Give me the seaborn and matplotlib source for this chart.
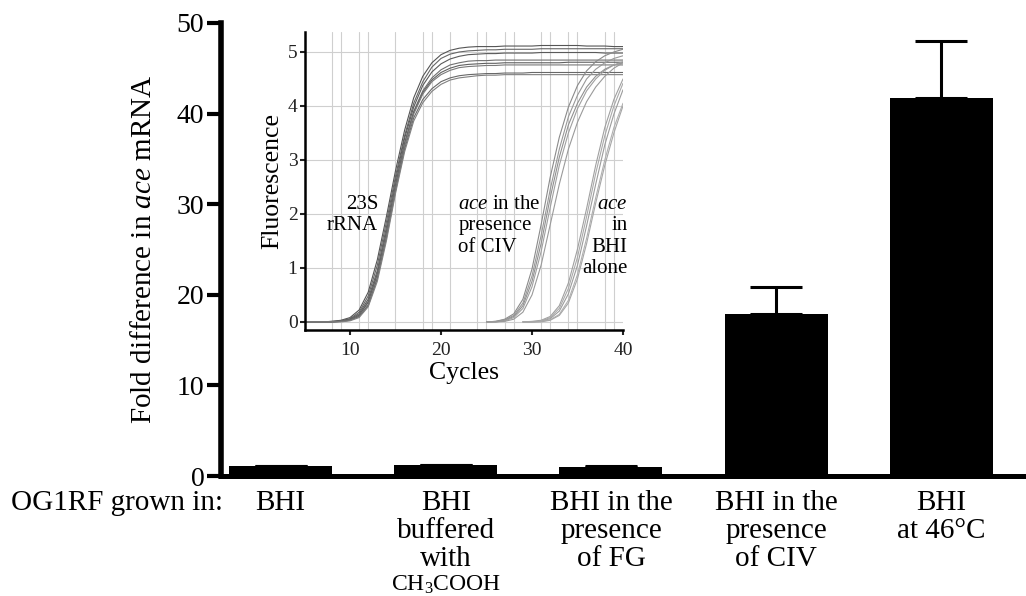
import numpy as np
import pandas as pd
import matplotlib
matplotlib.use("Agg")
import matplotlib.pyplot as plt
import seaborn as sns

# ---------------- main bar chart data ----------------
categories = ["BHI",
              "BHI\nbuffered\nwith",
              "BHI in the\npresence\nof FG",
              "BHI in the\npresence\nof CIV",
              "BHI\nat 46°C"]
buffer_note = "CH$_3$COOH"
fold_change = [1.1, 1.2, 1.0, 17.9, 41.7]
fold_error = [0.05, 0.05, 0.05, 3.0, 6.3]
main_yticks = [0, 10, 20, 30, 40, 50]

# ---------------- inset amplification curves ----------------
rrna_cycles = list(range(5, 41))
rrna_curves = [
    [0, 0, 0, 0.01, 0.03, 0.08, 0.22, 0.55, 1.15, 1.95, 2.8, 3.55, 4.15, 4.55, 4.8, 4.95, 5.03, 5.07, 5.09, 5.1,
     5.1, 5.1, 5.11, 5.11, 5.11, 5.11, 5.12, 5.12, 5.12, 5.12, 5.12, 5.11, 5.11, 5.11, 5.1, 5.1],
    [0, 0, 0, 0.01, 0.02, 0.06, 0.18, 0.48, 1.05, 1.85, 2.7, 3.45, 4.05, 4.45, 4.72, 4.88, 4.96, 5.0, 5.02, 5.03,
     5.04, 5.04, 5.05, 5.05, 5.05, 5.05, 5.06, 5.06, 5.06, 5.06, 5.06, 5.06, 5.06, 5.06, 5.06, 5.06],
    [0, 0, 0, 0, 0.02, 0.05, 0.15, 0.42, 0.95, 1.75, 2.62, 3.4, 3.98, 4.38, 4.63, 4.78, 4.87, 4.92, 4.95, 4.96,
     4.97, 4.97, 4.98, 4.98, 4.98, 4.98, 4.99, 4.99, 4.99, 4.99, 4.99, 4.99, 4.99, 4.98, 4.98, 4.98],
    [0, 0, 0, 0, 0.01, 0.04, 0.13, 0.38, 0.9, 1.68, 2.55, 3.32, 3.9, 4.28, 4.52, 4.67, 4.76, 4.8, 4.83, 4.84,
     4.84, 4.85, 4.85, 4.85, 4.85, 4.85, 4.85, 4.85, 4.85, 4.85, 4.85, 4.85, 4.85, 4.85, 4.85, 4.85],
    [0, 0, 0, 0, 0.01, 0.04, 0.12, 0.36, 0.88, 1.65, 2.52, 3.3, 3.88, 4.25, 4.48, 4.62, 4.7, 4.75, 4.77, 4.78,
     4.79, 4.79, 4.8, 4.8, 4.8, 4.8, 4.8, 4.8, 4.8, 4.81, 4.81, 4.81, 4.81, 4.81, 4.81, 4.81],
    [0, 0, 0, 0, 0.01, 0.03, 0.1, 0.32, 0.82, 1.58, 2.45, 3.25, 3.85, 4.22, 4.45, 4.58, 4.66, 4.71, 4.73, 4.74,
     4.75, 4.75, 4.76, 4.76, 4.76, 4.76, 4.76, 4.76, 4.76, 4.76, 4.76, 4.76, 4.76, 4.76, 4.76, 4.76],
    [0, 0, 0, 0, 0.01, 0.03, 0.1, 0.3, 0.8, 1.55, 2.42, 3.2, 3.78, 4.12, 4.32, 4.45, 4.52, 4.56, 4.58, 4.59,
     4.6, 4.6, 4.61, 4.61, 4.61, 4.62, 4.62, 4.62, 4.62, 4.62, 4.62, 4.62, 4.62, 4.62, 4.62, 4.62],
    [0, 0, 0, 0, 0, 0.02, 0.08, 0.28, 0.75, 1.5, 2.38, 3.15, 3.72, 4.06, 4.27, 4.4, 4.48, 4.52, 4.54, 4.56,
     4.57, 4.57, 4.58, 4.58, 4.58, 4.58, 4.58, 4.58, 4.58, 4.58, 4.58, 4.58, 4.58, 4.58, 4.58, 4.58],
]

civ_cycles = list(range(25, 41))
civ_curves = [
    [0, 0.01, 0.05, 0.15, 0.42, 0.98, 1.8, 2.68, 3.42, 3.98, 4.38, 4.65, 4.82, 4.93, 5.0, 5.05],
    [0, 0.01, 0.04, 0.12, 0.35, 0.85, 1.6, 2.45, 3.2, 3.8, 4.2, 4.5, 4.68, 4.8, 4.88, 4.93],
    [0, 0, 0.03, 0.1, 0.3, 0.75, 1.45, 2.3, 3.05, 3.65, 4.05, 4.35, 4.55, 4.68, 4.76, 4.8],
    [0, 0, 0.02, 0.08, 0.25, 0.65, 1.3, 2.12, 2.9, 3.5, 3.95, 4.28, 4.5, 4.66, 4.76, 4.82],
    [0, 0, 0.01, 0.05, 0.18, 0.5, 1.05, 1.8, 2.55, 3.2, 3.7, 4.08, 4.35, 4.55, 4.7, 4.8],
]

bhi_cycles = list(range(29, 41))
bhi_curves = [
    [0, 0.01, 0.03, 0.1, 0.3, 0.72, 1.35, 2.1, 2.9, 3.6, 4.12, 4.5],
    [0, 0, 0.02, 0.08, 0.25, 0.62, 1.2, 1.95, 2.75, 3.45, 4.0, 4.42],
    [0, 0, 0.01, 0.06, 0.2, 0.52, 1.05, 1.78, 2.55, 3.28, 3.85, 4.3],
    [0, 0, 0.01, 0.04, 0.14, 0.4, 0.88, 1.55, 2.3, 3.0, 3.6, 4.05],
    [0, 0, 0, 0.03, 0.12, 0.35, 0.8, 1.45, 2.2, 2.9, 3.5, 4.0],
]

inset_xticks = [10, 20, 30, 40]
inset_yticks = [0, 1, 2, 3, 4, 5]
inset_vgrid = [8, 9, 11, 12, 15, 18, 19, 21, 24, 25, 27, 28, 31, 32, 34, 35, 38, 39]

# ---------------- style ----------------
sns.set_theme(style="white")
plt.rcParams["font.family"] = ["Liberation Serif", "DejaVu Serif"]
plt.rcParams["mathtext.fontset"] = "custom"
plt.rcParams["mathtext.rm"] = "Liberation Serif"
plt.rcParams["mathtext.it"] = "Liberation Serif:italic"
plt.rcParams["mathtext.bf"] = "Liberation Serif:bold"
plt.rcParams["text.color"] = "black"
plt.rcParams["axes.labelcolor"] = "black"
plt.rcParams["xtick.color"] = "black"
plt.rcParams["ytick.color"] = "black"

W, H = 1026, 596
fig = plt.figure(figsize=(W / 100, H / 100), dpi=100)

# ---------------- main axes ----------------
ax = fig.add_axes([221 / W, 1 - 476 / H, 1 - 221 / W, (476 - 23) / H])
bar_df = pd.DataFrame({"condition": categories, "fold": fold_change})
sns.barplot(data=bar_df, x="condition", y="fold", color="black", saturation=1,
            width=0.624, errorbar=None, linewidth=0, ax=ax)
ax.errorbar(x=np.arange(len(categories)), y=fold_change,
            yerr=[np.zeros(len(fold_error)), fold_error],
            fmt="none", ecolor="black", elinewidth=2.2, capsize=18.7, capthick=2.2)

ax.set_xlim(-0.361, 4.513)
ax.set_ylim(0, 50)
ax.set_yticks(main_yticks)
ax.set_xlabel("")
ax.set_ylabel(r"Fold difference in $\mathit{ace}$ mRNA", fontsize=21, labelpad=14)
for s in ["top", "right"]:
    ax.spines[s].set_visible(False)
ax.spines["left"].set_linewidth(4)
ax.spines["bottom"].set_linewidth(3.6)
ax.spines["left"].set_color("black")
ax.spines["bottom"].set_color("black")
ax.tick_params(axis="y", direction="out", length=10, width=3, labelsize=20, pad=2, left=True)
ax.tick_params(axis="x", length=0, labelsize=21, pad=10)
ticklabels = ax.get_xticklabels()
for lab in ticklabels:
    lab.set_linespacing(1.1)
ax.set_facecolor("white")

# smaller chemical formula under the "buffered with" label
ax.annotate(buffer_note, xy=(0.5, 0), xycoords=ticklabels[1], xytext=(0, -1),
            textcoords="offset points", ha="center", va="top", fontsize=17)

fig.text(223 / W, 1 - 490 / H, "OG1RF grown in:", fontsize=21, ha="right", va="top")

# ---------------- inset ----------------
ins = fig.add_axes([304.5 / W, 1 - 330 / H, (623 - 304.5) / W, (330 - 32) / H])
ins.set_facecolor("white")

rows = []
for i, curve in enumerate(rrna_curves):
    for c, v in zip(rrna_cycles, curve):
        rows.append(("r%d" % i, c, v))
for i, curve in enumerate(civ_curves):
    for c, v in zip(civ_cycles, curve):
        rows.append(("c%d" % i, c, v))
for i, curve in enumerate(bhi_curves):
    for c, v in zip(bhi_cycles, curve):
        rows.append(("b%d" % i, c, v))
curve_df = pd.DataFrame(rows, columns=["curve", "cycle", "fluorescence"])

rrna_greys = ["#555555", "#666666", "#5a5a5a", "#707070", "#606060", "#7a7a7a", "#686868", "#808080"]
civ_greys = ["#8a8a8a", "#999999", "#909090", "#a0a0a0", "#9a9a9a"]
bhi_greys = ["#a0a0a0", "#aaaaaa", "#9c9c9c", "#b0b0b0", "#a6a6a6"]
palette = {}
palette.update({"r%d" % i: col for i, col in enumerate(rrna_greys)})
palette.update({"c%d" % i: col for i, col in enumerate(civ_greys)})
palette.update({"b%d" % i: col for i, col in enumerate(bhi_greys)})

ins.set_xticks(inset_vgrid, minor=True)
ins.grid(axis="x", which="minor", color="#cfcfcf", linewidth=0.8)
ins.grid(axis="x", which="major", visible=False)
ins.grid(axis="y", which="major", color="#cfcfcf", linewidth=0.8)
ins.set_axisbelow(True)

sns.lineplot(data=curve_df, x="cycle", y="fluorescence", hue="curve", palette=palette,
             estimator=None, legend=False, linewidth=0.8, ax=ins)

ins.set_xlim(5, 40)
ins.set_ylim(-0.15, 5.37)
ins.set_xticks(inset_xticks)
ins.set_yticks(inset_yticks)
ins.set_xlabel("Cycles", fontsize=18.5, labelpad=2)
ins.set_ylabel("Fluorescence", fontsize=18.5, labelpad=3)
for s in ["top", "right"]:
    ins.spines[s].set_visible(False)
for s in ["left", "bottom"]:
    ins.spines[s].set_linewidth(1.8)
    ins.spines[s].set_color("black")
ins.tick_params(axis="both", which="major", direction="out", length=3.5, width=1.5,
                labelsize=14, left=True, bottom=True, colors="#222222")
ins.tick_params(axis="x", which="major", pad=5)
ins.tick_params(axis="y", which="major", pad=1.5)
ins.tick_params(axis="x", which="minor", length=0)

ins.text(13.1, 2.35, "23S\nrRNA", fontsize=15, ha="right", va="top",
         multialignment="right", linespacing=1.16)
ins.text(21.9, 2.35, "$\\mathit{ace}$ in the\npresence\nof CIV", fontsize=15, ha="left",
         va="top", multialignment="left", linespacing=1.16)
ins.text(40.5, 2.35, "$\\mathit{ace}$\nin\nBHI\nalone", fontsize=15, ha="right", va="top",
         multialignment="right", linespacing=1.16)

fig.savefig("out.png", dpi=100, facecolor="white")
